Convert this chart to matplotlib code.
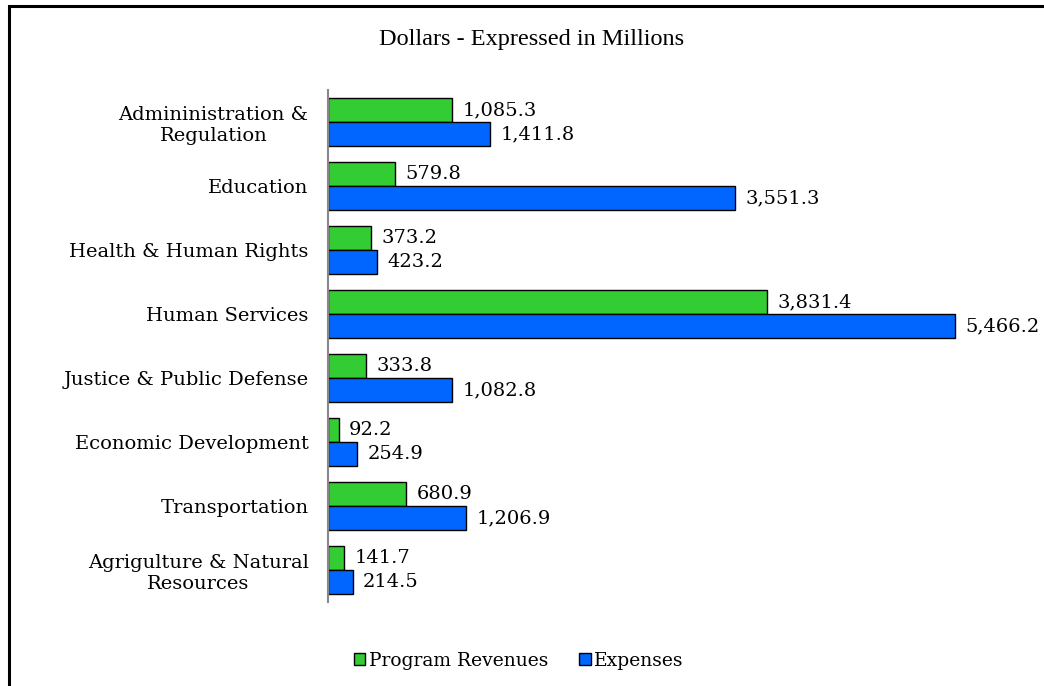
import matplotlib
matplotlib.use("Agg")
import matplotlib.pyplot as plt
from matplotlib.patches import Rectangle, Patch
import numpy as np

categories = ["Admininistration &\nRegulation", "Education", "Health & Human Rights",
              "Human Services", "Justice & Public Defense", "Economic Development",
              "Transportation", "Agrigulture & Natural\nResources"]
revenues = [1085.3, 579.8, 373.2, 3831.4, 333.8, 92.2, 680.9, 141.7]
expenses = [1411.8, 3551.3, 423.2, 5466.2, 1082.8, 254.9, 1206.9, 214.5]
series_names = ["Program Revenues", "Expenses"]
colors = ["#33CC33", "#0066FF"]
title = "Dollars - Expressed in Millions"

W, H = 1044, 686
fig = plt.figure(figsize=(W/100, H/100), dpi=100)
ax_left, ax_right, ax_top, ax_bot = 328, 1000, 90, 602
ax = fig.add_axes([ax_left/W, 1-ax_bot/H, (ax_right-ax_left)/W, (ax_bot-ax_top)/H])

n = len(categories)
y = np.arange(n)
bh = 0.375
ax.barh(y - bh/2, revenues, height=bh, color=colors[0], edgecolor="black", linewidth=1)
ax.barh(y + bh/2, expenses, height=bh, color=colors[1], edgecolor="black", linewidth=1)
ax.set_ylim(n - 0.5, -0.5)
px_per_unit = 627 / 5466.2
ax.set_xlim(0, (ax_right - ax_left) / px_per_unit)

font = "DejaVu Serif"
fs = 14
for i in range(n):
    ax.annotate(f"{revenues[i]:,.1f}", (revenues[i], y[i] - bh/2), xytext=(7.5, 0),
                textcoords="offset points", va="center", ha="left", fontsize=fs, family=font)
    ax.annotate(f"{expenses[i]:,.1f}", (expenses[i], y[i] + bh/2), xytext=(7.5, 0),
                textcoords="offset points", va="center", ha="left", fontsize=fs, family=font)

ax.set_yticks(y)
ax.set_yticklabels(categories, fontsize=fs, family=font, multialignment="center")
ax.tick_params(axis="y", length=0, pad=14)
ax.set_xticks([])
for s in ["top", "right", "bottom"]:
    ax.spines[s].set_visible(False)
ax.spines["left"].set_color("#888888")
ax.spines["left"].set_linewidth(1.5)

fig.text(532/W, 1-40/H, title, ha="center", va="center", fontsize=17.5, family="Liberation Serif")

handles = [Patch(facecolor=colors[0], edgecolor="black"), Patch(facecolor=colors[1], edgecolor="black")]
fig.legend(handles, series_names, loc="center", bbox_to_anchor=(519/W, 1-661/H), ncol=2,
           frameon=False, prop={"family": font, "size": 13.5}, handlelength=0.6, handleheight=0.6,
           handletextpad=0.2, columnspacing=1.65)

fig.patches.append(Rectangle((9/W, -0.1), 1.2, 1 - 6/H + 0.1, transform=fig.transFigure,
                             fill=False, edgecolor="black", linewidth=2.2, clip_on=False))

fig.savefig("out.png", dpi=100)
